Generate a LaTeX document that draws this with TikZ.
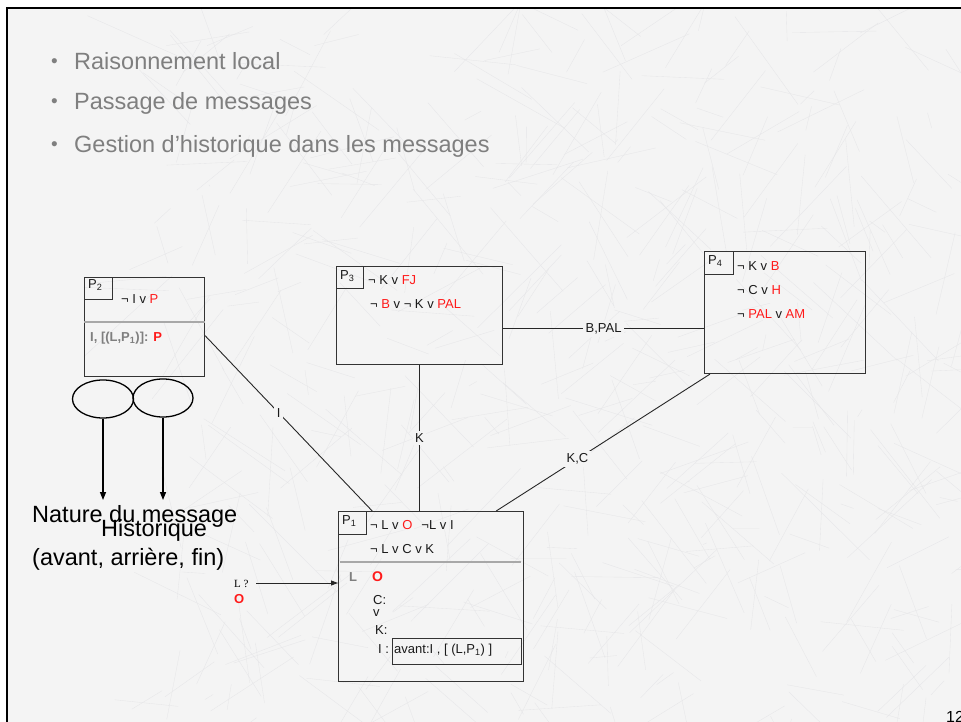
\documentclass[tikz,border=0pt]{standalone}
\usepackage{fontspec}
\setmainfont{Liberation Sans}
\newfontfamily\serifface{Liberation Serif}
\usetikzlibrary{arrows.meta,calc,shapes.geometric}

\definecolor{slidebg}{HTML}{F4F4F4}
\definecolor{webline}{HTML}{E6E6E8}
\definecolor{bullgray}{HTML}{7F7F7F}
\definecolor{hotred}{HTML}{FF1A1A}
\definecolor{boxline}{HTML}{333333}
\definecolor{sepgray}{HTML}{A8A8A8}
\definecolor{ink}{HTML}{1A1A1A}

\newcommand{\rd}[1]{{\color{hotred}#1}}

\begin{document}
\begin{tikzpicture}[x=1pt,y=-1pt,
  font=\fontsize{13}{15}\selectfont,
  pbox/.style={draw=boxline, line width=1.1pt, inner sep=0pt, anchor=north west},
  tagbox/.style={draw=boxline, line width=1pt, inner sep=0pt, anchor=north west},
  txt/.style={anchor=base west, inner sep=0pt, text=ink},
  bigtxt/.style={txt, font=\fontsize{23.5}{28}\selectfont},
  bultxt/.style={anchor=base west, inner sep=0pt, text=bullgray, font=\fontsize{23.5}{28}\selectfont},
  graybold/.style={txt, text=bullgray, font=\fontsize{13}{15}\selectfont\bfseries},
  link/.style={draw=black!85, line width=0.9pt},
  lab/.style={fill=slidebg, inner sep=2.5pt, text=ink},
  sep/.style={draw=sepgray, line width=2.4pt},
  downarrow/.style={draw=black, line width=1.4pt, -{Triangle[length=8pt,width=6pt]}},
  oval/.style={ellipse, draw=black, line width=1.3pt, inner sep=0pt}
]
\useasboundingbox (0,0) rectangle (961,722);
\fill[white] (0,0) rectangle (961,722);
\fill[slidebg] (7,8) rectangle (961,722);

% faint network texture in the background
\begin{scope}
  \clip (8,9) rectangle (961,722);
  \pgfmathsetseed{4217}
  \foreach \i in {1,...,520}{
    \pgfmathsetmacro\xa{160+800*rnd}
    \pgfmathsetmacro\ya{30+690*rnd}
    \pgfmathsetmacro\xb{\xa+180*(rnd-0.5)}
    \pgfmathsetmacro\yb{\ya+180*(rnd-0.5)}
    \draw[webline, line width=0.35pt] (\xa,\ya) -- (\xb,\yb);
  }
\end{scope}

% slide frame
\draw[black, line width=2pt] (7,722) -- (7,8) -- (961,8);

% bullet list
\foreach \yy/\tx [count=\k] in {70/Raisonnement local, 110/Passage de messages, 153/Gestion d’historique dans les messages}{
  \node[anchor=base west, inner sep=0pt, text=bullgray, font=\fontsize{19}{22}\selectfont] (bul\k) at (51,\yy-2) {•};
  \node[bultxt] (item\k) at (74,\yy) {\tx};
}

% peer boxes
\node[pbox, minimum width=120, minimum height=99] (p2) at (84,277) {};
\node[tagbox, minimum width=28, minimum height=22] (t2) at (84,277) {};
\node[pbox, minimum width=166, minimum height=98] (p3) at (336,266) {};
\node[tagbox, minimum width=27, minimum height=22] (t3) at (336,266) {};
\node[pbox, minimum width=161, minimum height=122] (p4) at (704,251) {};
\node[tagbox, minimum width=29, minimum height=23] (t4) at (704,251) {};
\node[pbox, minimum width=185, minimum height=170] (p1) at (338,511) {};
\node[tagbox, minimum width=28, minimum height=23] (t1) at (338,511) {};

% P2 contents
\node[txt] (n2) at (88,288) {P\textsubscript{2}};
\node[txt] (c21) at (121,303) {¬ I v \rd{P}};
\draw[sep] (p2.west |- 0,322) -- (p2.east |- 0,322);
\node[graybold] (h2) at (90,341) {I, [(L,P\textsubscript{1})]: \rd{P}};

% P3 contents
\node[txt] (n3) at (340,279) {P\textsubscript{3}};
\node[txt] (c31) at (368,284) {¬ K v \rd{FJ}};
\node[txt] (c32) at (370,308) {¬ \rd{B} v ¬ K v \rd{PAL}};

% P4 contents
\node[txt] (n4) at (708,264) {P\textsubscript{4}};
\node[txt] (c41) at (737,270) {¬ K v \rd{B}};
\node[txt] (c42) at (737,294) {¬ C v \rd{H}};
\node[txt] (c43) at (737,318) {¬ \rd{PAL} v \rd{AM}};

% P1 contents
\node[txt] (n1) at (342,524) {P\textsubscript{1}};
\node[txt] (c11) at (370,529) {¬ L v \rd{O}\hspace{9pt}¬L v I};
\node[txt] (c12) at (370,553) {¬ L v C v K};
\draw[sep] (340,562) -- (521,562);
\node[graybold] (hl) at (349,581) {L};
\node[txt, text=hotred, font=\fontsize{14}{16}\selectfont\bfseries] (ho) at (372,581) {O};
\node[txt] (hc) at (373,604) {C:};
\node[txt] (hv) at (373,616) {v};
\node[txt] (hk) at (375,634) {K:};
\node[txt] (hi) at (378,653) {I :};
\node[pbox, minimum width=129, minimum height=26] (hist) at (392,638) {};
\node[txt] (histtxt) at (394,653) {avant:I , [ (L,P\textsubscript{1}) ]};

% links between peers
\coordinate (p3r) at ($(p3.north east)!0.633!(p3.south east)$);
\draw[link] (p3r) -- node[lab] (lbpal) {B,PAL} (p3r -| p4.west);
\draw[link] (p3.south) -- node[lab] (lk) {K} (p3.south |- p1.north);
\draw[link] ($(p2.north east)!0.586!(p2.south east)$) -- node[lab, pos=0.44] (li) {I} ($(p1.north west)!0.184!(p1.north east)$);
\draw[link] ($(p4.south west)!0.037!(p4.south east)$) -- node[lab, pos=0.62] (lkc) {K,C} ($(p1.north west)!0.85!(p1.north east)$);

% incoming query
\node[anchor=base west, inner sep=0pt, font=\serifface\fontsize{11}{13}\selectfont] (lq) at (234,587) {L ?};
\node[txt, text=hotred, font=\fontsize{13}{15}\selectfont\bfseries] (lo) at (234,603) {O};
\coordinate (qstart) at (256,583);
\draw[black!85, line width=0.9pt, -{Triangle[length=7pt,width=5pt]}] (qstart) -- (qstart -| p1.west);

% message annotation
\node[oval, minimum width=61, minimum height=38] (e1) at (103,399) {};
\node[oval, minimum width=60, minimum height=38] (e2) at (163,398) {};
\coordinate (a1) at (103,500);
\coordinate (a2) at (163,500);
\draw[downarrow] (e1.south) -- (a1);
\draw[downarrow] (e2.south) -- (a2);
\node[bigtxt, text=black] (nat) at (32,522) {Nature du message};
\node[bigtxt, text=black] (histo) at (101,536) {Historique};
\node[bigtxt, text=black] (kinds) at (32,565) {(avant, arrière, fin)};

% page number
\node[anchor=base west, inner sep=0pt, text=black, font=\fontsize{16}{18}\selectfont] (pg) at (946,722) {12};
\end{tikzpicture}
\end{document}
